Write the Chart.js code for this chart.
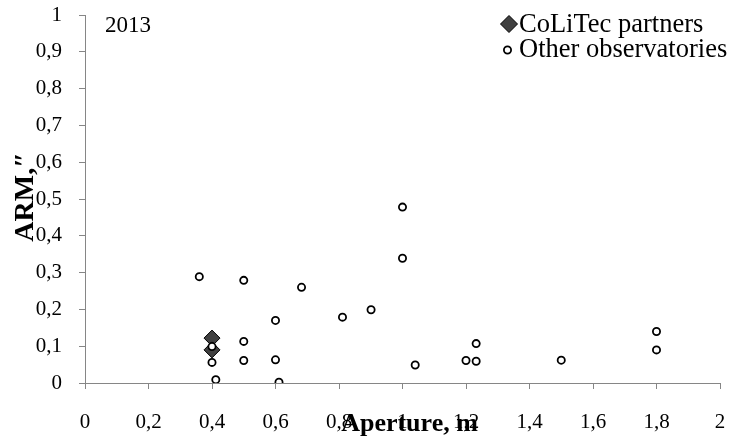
<!DOCTYPE html>
<html>
<head>
<meta charset="utf-8">
<script src="https://cdn.jsdelivr.net/npm/chart.js@4.4.1/dist/chart.umd.min.js"></script>
<style>
  html, body { margin: 0; padding: 0; background: #fff; }
  #wrap { width: 729px; height: 444px; position: relative; }
</style>
</head>
<body>
<div id="wrap"><canvas id="chartScatter"></canvas></div>
<script>
// values (aperture in m, ARM in arcsec)
const colitecX = [0.4, 0.4]
const colitecY = [0.122, 0.090]

const otherX = [0.36, 0.4, 0.4, 0.412, 0.5, 0.5, 0.5, 0.6, 0.6, 0.611, 0.682, 0.811, 0.901, 1.0, 1.0, 1.04, 1.2, 1.232, 1.232, 1.5, 1.8, 1.8]
const otherY = [0.289, 0.099, 0.056, 0.009, 0.279, 0.113, 0.061, 0.170, 0.063, 0.002, 0.260, 0.179, 0.199, 0.478, 0.339, 0.049, 0.061, 0.107, 0.059, 0.062, 0.140, 0.090]

const seriesNames = ['CoLiTec partners', 'Other observatories']
const xTitle = 'Aperture, m'
const yTitle = 'ARM,\u2033'
const yearLabel = '2013'

const xMin = 0, xMax = 2, xStep = 0.2
const yMin = 0, yMax = 1, yStep = 0.1

const serif = '"Liberation Serif", "Times New Roman", serif'
const axisGray = '#868686'

const toPoints = (xs, ys) => xs.map((x, i) => ({ x: x, y: ys[i] }))

// excel style labels: 0,2 instead of 0.2
const commaLabel = (value) => String(Math.round(value * 10) / 10).replace('.', ',')

// titles, year and legend sit on top of the plot like in the original
const overlayText = {
    id: 'overlayText',
    afterDraw(chart) {
        const ctx = chart.ctx
        const area = chart.chartArea
        ctx.save()
        ctx.fillStyle = '#000'

        ctx.font = '23px ' + serif
        ctx.textAlign = 'left'
        ctx.textBaseline = 'alphabetic'
        ctx.fillText(yearLabel, 105, 32)

        // x title
        ctx.font = 'bold 26px ' + serif
        ctx.textAlign = 'center'
        ctx.fillText(xTitle, (area.left + area.right) / 2 + 7, 431)

        // y title, rotated
        ctx.save()
        ctx.translate(33, (area.top + area.bottom) / 2 - 2)
        ctx.rotate(-Math.PI / 2)
        ctx.font = 'bold 28px ' + serif
        ctx.textAlign = 'center'
        ctx.fillText(yTitle, 0, 0)
        ctx.restore()

        // legend
        ctx.font = '26.5px ' + serif
        ctx.textAlign = 'left'
        ctx.fillText(seriesNames[0], 519, 32)
        ctx.fillText(seriesNames[1], 519, 57)

        ctx.beginPath()
        ctx.moveTo(509 - 8.5, 24)
        ctx.lineTo(509, 24 - 8.5)
        ctx.lineTo(509 + 8.5, 24)
        ctx.lineTo(509, 24 + 8.5)
        ctx.closePath()
        ctx.fillStyle = '#404040'
        ctx.fill()
        ctx.lineWidth = 1
        ctx.strokeStyle = '#000'
        ctx.stroke()

        ctx.beginPath()
        ctx.arc(507.5, 50, 3.6, 0, Math.PI * 2)
        ctx.fillStyle = '#fff'
        ctx.fill()
        ctx.lineWidth = 1.8
        ctx.stroke()

        ctx.restore()
    }
}

const ctx = document.getElementById('chartScatter').getContext('2d')

const chart = new Chart(ctx, {
    type: 'scatter',
    data: {
        datasets: [
            {
                label: seriesNames[0],
                data: toPoints(colitecX, colitecY),
                pointStyle: 'rectRot',
                pointRadius: 8,
                pointBackgroundColor: '#404040',
                pointBorderColor: '#000',
                pointBorderWidth: 1,
                order: 1
            },
            {
                label: seriesNames[1],
                data: toPoints(otherX, otherY),
                pointStyle: 'circle',
                pointRadius: 3.6,
                pointBackgroundColor: '#fff',
                pointBorderColor: '#000',
                pointBorderWidth: 1.8,
                order: 0
            }
        ]
    },
    options: {
        responsive: true,
        maintainAspectRatio: false,
        animation: false,
        layout: {
            padding: { top: 15, right: 3, left: 0, bottom: 0 }
        },
        plugins: {
            legend: { display: false },
            tooltip: { enabled: false }
        },
        scales: {
            x: {
                type: 'linear',
                min: xMin,
                max: xMax,
                ticks: {
                    stepSize: xStep,
                    color: '#000',
                    font: { family: serif, size: 21 },
                    padding: 21,
                    maxRotation: 0,
                    autoSkip: false,
                    callback: commaLabel
                },
                grid: {
                    drawOnChartArea: false,
                    drawTicks: true,
                    tickLength: 6,
                    color: axisGray
                },
                border: { color: axisGray, width: 1 },
                afterFit(scale) {
                    scale.height = 61
                    scale.paddingLeft = 0
                    scale.paddingRight = 0
                }
            },
            y: {
                type: 'linear',
                min: yMin,
                max: yMax,
                ticks: {
                    stepSize: yStep,
                    color: '#000',
                    font: { family: serif, size: 21 },
                    padding: 17,
                    autoSkip: false,
                    callback: commaLabel
                },
                grid: {
                    drawOnChartArea: false,
                    drawTicks: true,
                    tickLength: 6,
                    color: axisGray
                },
                border: { color: axisGray, width: 1 },
                afterFit(scale) {
                    scale.width = 85
                    scale.paddingTop = 0
                    scale.paddingBottom = 0
                }
            }
        }
    },
    plugins: [overlayText]
})
</script>
</body>
</html>
